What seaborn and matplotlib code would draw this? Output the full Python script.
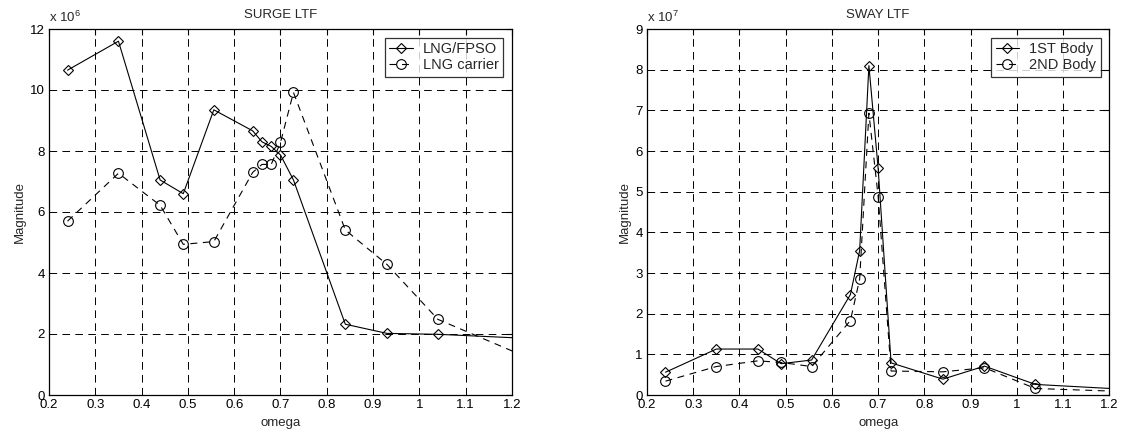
import numpy as np
import pandas as pd
import matplotlib
matplotlib.use("Agg")
import matplotlib.pyplot as plt
import seaborn as sns

# ---------------- data ----------------
omega = [0.24, 0.35, 0.44, 0.49, 0.556, 0.64, 0.66, 0.68, 0.70, 0.728, 0.84, 0.93, 1.04, 1.30]

# SURGE LTF (x 10^6)
surge_fpso = [10.65, 11.6, 7.05, 6.6, 9.35, 8.66, 8.3, 8.15, 7.87, 7.05, 2.32, 2.02, 1.99, 1.81]
surge_carrier = [5.7, 7.27, 6.22, 4.94, 5.03, 7.3, 7.56, 7.56, 8.28, 9.92, 5.41, 4.28, 2.48, 0.80]

# SWAY LTF (x 10^7)
sway_body1 = [0.56, 1.13, 1.13, 0.77, 0.86, 2.47, 3.55, 8.1, 5.57, 0.79, 0.39, 0.71, 0.26, 0.10]
sway_body2 = [0.34, 0.70, 0.84, 0.80, 0.70, 1.83, 2.85, 6.93, 4.88, 0.59, 0.57, 0.67, 0.16, 0.06]

x_ticks = [0.2, 0.3, 0.4, 0.5, 0.6, 0.7, 0.8, 0.9, 1.0, 1.1, 1.2]
surge_yticks = [0, 2, 4, 6, 8, 10, 12]
sway_yticks = [0, 1, 2, 3, 4, 5, 6, 7, 8, 9]

# ---------------- style ----------------
sns.set_theme(style="white")
plt.rcParams['font.family'] = ['Liberation Sans', 'DejaVu Sans']
plt.rcParams['mathtext.fontset'] = 'custom'
plt.rcParams['mathtext.rm'] = 'Liberation Sans'
plt.rcParams['mathtext.it'] = 'Liberation Sans:italic'
plt.rcParams['lines.scale_dashes'] = False

FS = 9.5
LFS = 10.5

fig = plt.figure(figsize=(11.24, 4.38), dpi=100)
ax1 = fig.add_axes([49/1124, 43/438, (512-49)/1124, (395-29)/438])
ax2 = fig.add_axes([647/1124, 43/438, (1109.3-647)/1124, (395-29)/438])


def draw(ax, y1, y2, lab1, lab2, title, yticks, scale_exp):
    df = pd.DataFrame({"omega": omega, "a": y1, "b": y2})
    sns.lineplot(data=df, x="omega", y="a", ax=ax, sort=False, color="black",
                 linewidth=0.8, marker="D", markersize=5.5, mfc="none",
                 mec="black", mew=0.8, label=lab1, zorder=3)
    sns.lineplot(data=df, x="omega", y="b", ax=ax, sort=False, color="black",
                 linewidth=0.8, linestyle=(0, (5, 4)), marker="o", markersize=7,
                 mfc="none", mec="black", mew=0.8, label=lab2, zorder=3)
    ax.set_xlim(0.2, 1.2)
    ax.set_ylim(yticks[0], yticks[-1])
    ax.set_xticks(x_ticks)
    ax.set_xticklabels(["%g" % v for v in x_ticks])
    ax.set_yticks(yticks)
    ax.set_yticklabels(["%g" % v for v in yticks])
    ax.grid(True, color="black", linestyle=(0, (5.5, 3.8)), linewidth=0.7)
    ax.set_axisbelow(True)
    for s in ax.spines.values():
        s.set_color("black")
        s.set_linewidth(0.9)
    ax.tick_params(direction="in", length=4, width=0.8, colors="black",
                   labelsize=FS, top=True, right=True, pad=3)
    ax.set_xlabel("omega", fontsize=FS, labelpad=4)
    ax.set_ylabel("Magnitude", fontsize=FS, labelpad=3)
    ax.set_title(title, fontsize=FS, pad=8)
    ax.text(0.0, 1.012, r"x 10$^{%d}$" % scale_exp, transform=ax.transAxes,
            ha="left", va="bottom", fontsize=FS)
    leg = ax.legend(loc="upper right", fontsize=LFS, frameon=True, fancybox=False,
                    edgecolor="black", handlelength=1.6, handletextpad=0.7,
                    borderpad=0.3, labelspacing=0.15, borderaxespad=0.6)
    leg.get_frame().set_linewidth(0.9)


draw(ax1, surge_fpso, surge_carrier, "LNG/FPSO", "LNG carrier", "SURGE LTF", surge_yticks, 6)
draw(ax2, sway_body1, sway_body2, "1ST Body", "2ND Body", "SWAY LTF", sway_yticks, 7)

fig.savefig("out.png", dpi=100, facecolor="white")
